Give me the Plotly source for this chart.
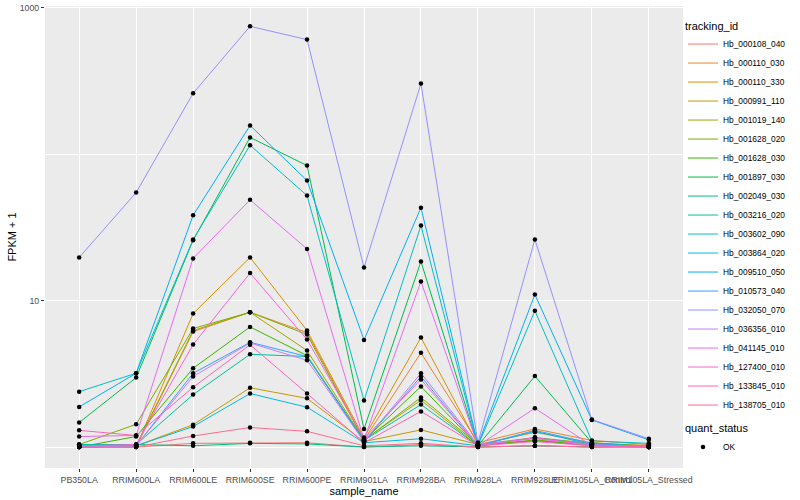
import plotly.graph_objects as go

samples = ["PB350LA", "RRIM600LA", "RRIM600LE", "RRIM600SE", "RRIM600PE", "RRIM901LA",
           "RRIM928BA", "RRIM928LA", "RRIM928LE", "RRIM105LA_Control", "RRIM105LA_Stressed"]

tracking_ids = ["Hb_000108_040", "Hb_000110_030", "Hb_000110_330", "Hb_000991_110", "Hb_001019_140",
                "Hb_001628_020", "Hb_001628_030", "Hb_001897_030", "Hb_002049_030", "Hb_003216_020",
                "Hb_003602_090", "Hb_003864_020", "Hb_009510_050", "Hb_010573_040", "Hb_032050_070",
                "Hb_036356_010", "Hb_041145_010", "Hb_127400_010", "Hb_133845_010", "Hb_138705_010"]

colors = ["#F8766D", "#EA8331", "#D89000", "#C09B00", "#A3A500", "#7CAE00", "#39B600", "#00BB4E",
          "#00BF7D", "#00C1A3", "#00BFC4", "#00BAE0", "#00B0F6", "#35A2FF", "#9590FF", "#C77CFF",
          "#E76BF3", "#FA62DB", "#FF62BC", "#FF6C91"]

# FPKM values per gene across samples (plotted as FPKM + 1)
fpkm_000108_040 = [0, 0, 0.06, 0.07, 0.07, 0, 0.04, 0, 0.02, 0, 0.02]
fpkm_000110_030 = [0, 0, 5.14, 7.32, 5.05, 0.12, 3.40, 0.07, 0.33, 0.11, 0.04]
fpkm_000110_330 = [0, 0, 7.15, 18.7, 5.24, 0.16, 4.59, 0.04, 0.26, 0.07, 0.02]
fpkm_000991_110 = [0, 0.02, 0.42, 1.54, 1.15, 0.09, 0.31, 0.04, 0.16, 0.06, 0.02]
fpkm_001019_140 = [0.02, 0.02, 5.24, 7.32, 3.56, 0.12, 1.09, 0.02, 0.12, 0.04, 0]
fpkm_001628_020 = [0.04, 0.43, 5.44, 7.32, 4.86, 0.11, 1.18, 0.04, 0.10, 0.04, 0]
fpkm_001628_030 = [0, 0.18, 2.45, 5.61, 3.21, 0.11, 1.59, 0.02, 0.11, 0.02, 0]
fpkm_001897_030 = [0.47, 1.98, 24.8, 129, 82.5, 0.33, 17.5, 0.02, 2.05, 0.07, 0]
fpkm_002049_030 = [0.04, 0.04, 0.02, 0.06, 0.05, 0, 0.02, 0, 0.02, 0, 0]
fpkm_003216_020 = [0.04, 0.04, 1.28, 3.30, 3.15, 0.11, 0.95, 0.02, 0.16, 0.04, 0.02]
fpkm_003602_090 = [1.39, 2.19, 25.1, 114, 51.1, 1.08, 31.5, 0.02, 7.51, 0.10, 0.06]
fpkm_003864_020 = [0, 0.02, 0.38, 1.32, 0.87, 0.07, 0.14, 0.02, 0.28, 0.04, 0.02]
fpkm_009510_050 = [0.88, 2.19, 37.2, 156, 64.9, 4.39, 42.1, 0.04, 10.0, 0.53, 0.12]
fpkm_010573_040 = [0, 0.02, 2.19, 4.19, 3.15, 0.09, 2.03, 0.02, 0.30, 0.06, 0]
fpkm_032050_070 = [18.7, 53.6, 259, 744, 604, 15.8, 302, 0.07, 25.1, 0.54, 0.14]
fpkm_036356_010 = [0, 0.02, 2.03, 4.13, 2.91, 0.09, 2.19, 0.04, 0.14, 0.04, 0]
fpkm_041145_010 = [0.18, 0.20, 18.4, 47.7, 21.5, 0.12, 12.5, 0.02, 0.84, 0.02, 0]
fpkm_127400_010 = [0.02, 0.04, 4.01, 14.4, 4.42, 0.14, 1.89, 0.02, 0.16, 0.02, 0]
fpkm_133845_010 = [0.30, 0.20, 1.56, 3.99, 1.32, 0.07, 0.75, 0.02, 0.09, 0.02, 0.02]
fpkm_138705_010 = [0, 0, 0.19, 0.36, 0.28, 0.02, 0.06, 0, 0.02, 0, 0]

series = [fpkm_000108_040, fpkm_000110_030, fpkm_000110_330, fpkm_000991_110, fpkm_001019_140,
          fpkm_001628_020, fpkm_001628_030, fpkm_001897_030, fpkm_002049_030, fpkm_003216_020,
          fpkm_003602_090, fpkm_003864_020, fpkm_009510_050, fpkm_010573_040, fpkm_032050_070,
          fpkm_036356_010, fpkm_041145_010, fpkm_127400_010, fpkm_133845_010, fpkm_138705_010]

quant_status = "OK"

FONT = "Liberation Sans, Arial, sans-serif"

fig = go.Figure()
for name, col, vals in zip(tracking_ids, colors, series):
    fig.add_trace(go.Scatter(
        x=samples, y=[v + 1 for v in vals], mode="lines", name=name,
        line=dict(color=col, width=1), legend="legend"))

all_x, all_y = [], []
for vals in series:
    all_x += samples
    all_y += [v + 1 for v in vals]
fig.add_trace(go.Scatter(
    x=all_x, y=all_y, mode="markers", name=quant_status,
    marker=dict(color="black", size=4.5), legend="legend2"))

fig.update_layout(
    width=800, height=500,
    margin=dict(l=45, r=117, t=6, b=32),
    paper_bgcolor="white", plot_bgcolor="#EBEBEB",
    font=dict(family=FONT, size=9, color="#4D4D4D"),
    showlegend=True,
    legend=dict(
        title=dict(text="tracking_id", font=dict(size=11, color="black")),
        x=1.0, xanchor="left", y=0.98, yanchor="top",
        font=dict(size=8.4, color="black"), bgcolor="rgba(0,0,0,0)",
        itemwidth=30, tracegroupgap=0),
    legend2=dict(
        title=dict(text="quant_status", font=dict(size=11, color="black")),
        x=1.0, xanchor="left", y=0.108, yanchor="top",
        font=dict(size=8.4, color="black"), bgcolor="rgba(0,0,0,0)",
        itemwidth=30),
)

fig.update_xaxes(
    type="category", categoryorder="array", categoryarray=samples,
    range=[-0.6, len(samples) - 0.4],
    showgrid=True, gridcolor="white", gridwidth=1.1,
    ticks="outside", ticklen=3, tickcolor="#333333", tickwidth=1,
    tickangle=0,
    tickfont=dict(size=8.8, color="#4D4D4D"),
    showline=False, zeroline=False,
    title=dict(text="sample_name", font=dict(size=11, color="black"), standoff=1),
    automargin=False)

fig.update_yaxes(
    type="log", range=[-0.143, 3.011],
    tickvals=[10, 1000], ticktext=["10", "1000"],
    showgrid=True, gridcolor="white", gridwidth=1.1,
    minor=dict(tickvals=[1, 100], showgrid=True, gridcolor="white", gridwidth=0.55, ticks=""),
    ticks="outside", ticklen=3, tickcolor="#333333", tickwidth=1,
    tickfont=dict(size=8.8, color="#4D4D4D"),
    showline=False, zeroline=False,
    title=dict(text="FPKM + 1", font=dict(size=11, color="black"), standoff=0),
    automargin=False)

fig.write_html("out.html", config={"displayModeBar": False},
               post_script="document.body.style.margin='0';")
